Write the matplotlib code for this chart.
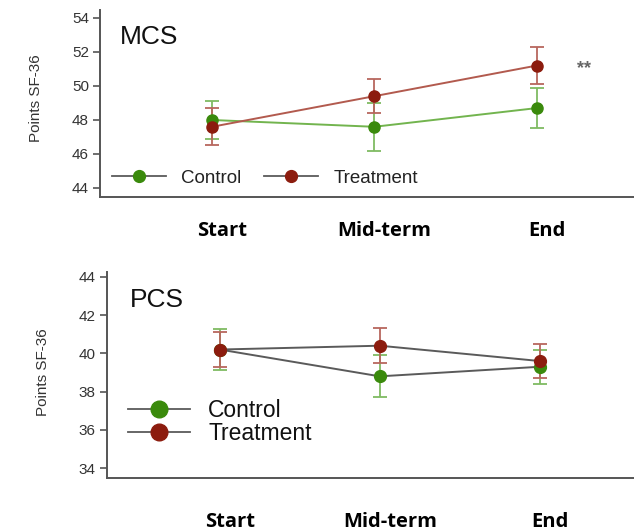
import matplotlib
matplotlib.use("Agg")
import matplotlib.pyplot as plt
from matplotlib.lines import Line2D
from matplotlib.transforms import ScaledTranslation


# ---------------------------------------------------
# Data
# ---------------------------------------------------

categories = ["Start", "Mid-term", "End"]
x_pos = [0, 1, 2]

mcs_control = [48.0, 47.6, 48.7]
mcs_control_err = [1.1, 1.4, 1.2]
mcs_treatment = [47.6, 49.4, 51.2]
mcs_treatment_err = [1.1, 1.0, 1.1]

pcs_control = [40.2, 38.8, 39.3]
pcs_control_err = [1.05, 1.1, 0.9]
pcs_treatment = [40.2, 40.4, 39.6]
pcs_treatment_err = [0.9, 0.9, 0.9]

mcs_yticks = [44, 46, 48, 50, 52, 54]
pcs_yticks = [34, 36, 38, 40, 42, 44]


# ---------------------------------------------------
# Style
# ---------------------------------------------------

plt.rcParams["font.family"] = ["Liberation Sans", "DejaVu Sans"]

green_marker = "#3a8a0c"
green_line = "#72b44e"
green_err = "#7fbb62"
red_marker = "#8c1c0e"
red_line = "#b25a4e"
red_err = "#b8675e"
gray_line = "#5a5a5a"
spine_color = "#555555"
text_color = "#333333"

W, H = 634, 532
fig = plt.figure(figsize=(W / 100, H / 100), dpi=100)


def px_axes(left, top, right, bottom):
    return fig.add_axes([left / W, 1 - bottom / H,
                         (right - left) / W, (bottom - top) / H])


def style_axes(ax, yticks, ylim, xlim):
    ax.set_xlim(*xlim)
    ax.set_ylim(*ylim)
    ax.set_yticks(yticks)
    ax.set_xticks([])
    for side in ["top", "right"]:
        ax.spines[side].set_visible(False)
    for side in ["left", "bottom"]:
        ax.spines[side].set_color(spine_color)
        ax.spines[side].set_linewidth(1.4)
    ax.tick_params(axis="y", length=5, width=1.2, color=spine_color,
                   labelsize=11, labelcolor=text_color, pad=3)
    ax.set_ylabel("Points SF-36", fontsize=11, color=text_color)


def category_labels(ax, dy):
    offset = ScaledTranslation(0.1, dy, fig.dpi_scale_trans)
    for xi, name in zip(x_pos, categories):
        ax.text(xi, 0, name, transform=ax.get_xaxis_transform() + offset,
                ha="center", va="center", fontsize=14.5,
                fontweight="bold", family="Open Sans", color="black")


def draw_series(ax, y, err, mcolor, lcolor, ecolor, ms):
    ax.errorbar(x_pos, y, yerr=err, fmt="none", ecolor=ecolor,
                elinewidth=1.3, capsize=5, capthick=1.3, zorder=2)
    ax.plot(x_pos, y, color=lcolor, linewidth=1.4, zorder=3)
    ax.plot(x_pos, y, linestyle="none", marker="o", markersize=ms,
            color=mcolor, zorder=4)


# ---------------------------------------------------
# MCS panel
# ---------------------------------------------------

ax1 = px_axes(100, 10, 634, 197)
style_axes(ax1, mcs_yticks, (43.47, 54.47), (-0.69, 2.60))
ax1.yaxis.set_label_coords(-0.107, 0.53)

draw_series(ax1, mcs_control, mcs_control_err,
            green_marker, green_line, green_err, 8)
draw_series(ax1, mcs_treatment, mcs_treatment_err,
            red_marker, red_line, red_err, 8)

ax1.text(0.037, 0.856, "MCS", transform=ax1.transAxes, fontsize=19,
         ha="left", va="center", color="#111111")
ax1.text(2.25, 51.0, "**", fontsize=13, fontweight="bold",
         color="#666666", ha="left", va="center")

handles1 = [
    Line2D([], [], color=gray_line, linewidth=1.3, marker="o",
           markersize=8.5, markerfacecolor=green_marker,
           markeredgecolor=green_marker, label="Control"),
    Line2D([], [], color=gray_line, linewidth=1.3, marker="o",
           markersize=8.5, markerfacecolor=red_marker,
           markeredgecolor=red_marker, label="Treatment"),
]
ax1.legend(handles=handles1, loc="center left",
           bbox_to_anchor=(0.022, 0.10), ncol=2, frameon=False,
           fontsize=13.5, handlelength=2.9, handletextpad=0.8,
           columnspacing=1.2, borderaxespad=0, borderpad=0,
           labelcolor="#222222")

category_labels(ax1, -0.34)


# ---------------------------------------------------
# PCS panel
# ---------------------------------------------------

ax2 = px_axes(107, 272, 634, 478)
style_axes(ax2, pcs_yticks, (33.49, 44.25), (-0.706, 2.59))
ax2.yaxis.set_label_coords(-0.108, 0.515)

draw_series(ax2, pcs_control, pcs_control_err,
            green_marker, gray_line, green_err, 8.5)
draw_series(ax2, pcs_treatment, pcs_treatment_err,
            red_marker, gray_line, red_err, 8.5)

ax2.text(0.044, 0.864, "PCS", transform=ax2.transAxes, fontsize=19,
         ha="left", va="center", color="#111111")

handles2 = [
    Line2D([], [], color=gray_line, linewidth=1.3, marker="o",
           markersize=12, markerfacecolor=green_marker,
           markeredgecolor=green_marker, label="Control"),
    Line2D([], [], color=gray_line, linewidth=1.3, marker="o",
           markersize=12, markerfacecolor=red_marker,
           markeredgecolor=red_marker, label="Treatment"),
]
ax2.legend(handles=handles2, loc="center left",
           bbox_to_anchor=(0.04, 0.274), ncol=1, frameon=False,
           fontsize=16.5, handlelength=2.7, handletextpad=0.8,
           labelspacing=0.0, borderaxespad=0, borderpad=0,
           labelcolor="#111111")

category_labels(ax2, -0.44)

fig.savefig("out.png", dpi=100)
